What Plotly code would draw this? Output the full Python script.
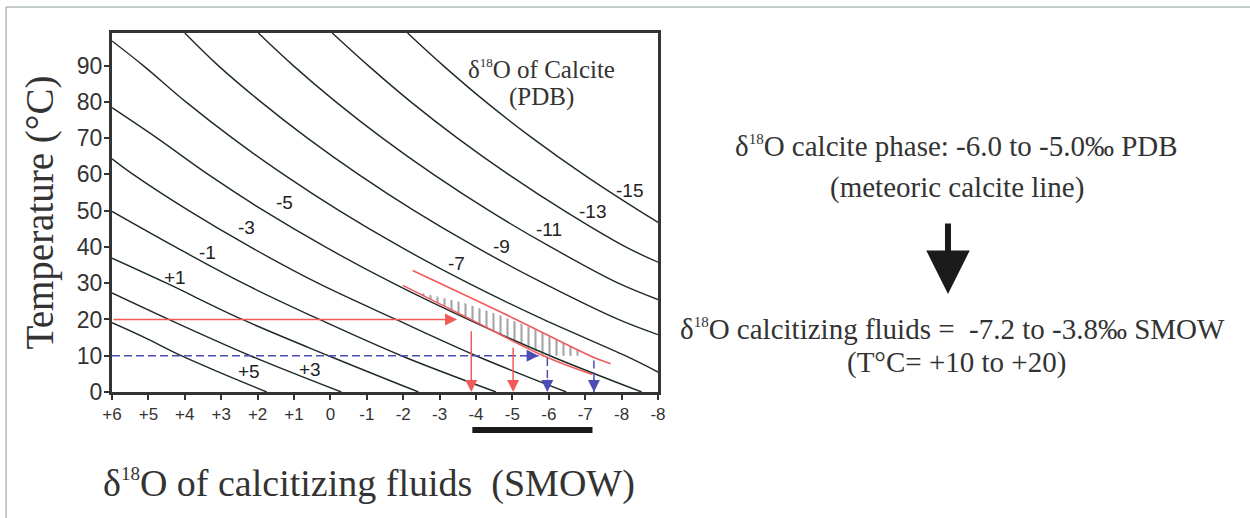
import plotly.graph_objects as go

SERIF = "Liberation Serif, Times New Roman, serif"
SANS = "Liberation Sans, Arial, sans-serif"
CURVE = "#1d2b27"
RED = "#f25a5a"
BLUE = "#4d4db3"
TXT = "#333333"

# ---- axes ----
x_ticks = [6, 5, 4, 3, 2, 1, 0, -1, -2, -3, -4, -5, -6, -7, -8, -9]
x_ticktext = ["+6", "+5", "+4", "+3", "+2", "+1", "0", "-1", "-2", "-3",
              "-4", "-5", "-6", "-7", "-8", "-8"]
y_ticks = [0, 10, 20, 30, 40, 50, 60, 70, 80, 90]

# ---- calcite isopleths (delta18O water SMOW vs temperature) ----
c_p5_x = [1.75, 2.95, 4.1, 5.1, 6.0]
c_p5_t = [0, 5, 10, 15, 19.1]
c_p3_x = [-0.3, 2.2, 4.44, 6.0]
c_p3_t = [0, 10, 20, 27.3]
c_p1_x = [-2.42, 0.05, 2.42, 4.5, 6.0]
c_p1_t = [0, 10, 20, 30, 36.9]
c_m1_x = [-4.55, -1.95, 0.3, 2.4, 4.26, 6.0]
c_m1_t = [0, 10, 20, 30, 40, 49.8]
c_m3_x = [-6.48, -4.0, -1.8, 0.34, 2.2, 3.89, 5.42, 6.0]
c_m3_t = [0, 10, 20, 30, 40, 50, 60, 64.3]
c_m5_x = [-8.55, -6.03, -3.78, -1.72, 0.14, 1.83, 3.36, 4.76, 6.0]
c_m5_t = [0, 10, 20, 30, 40, 50, 60, 70, 78.4]
c_m7_x = [-9.0, -8.1, -5.85, -3.79, -1.93, -0.24, 1.29, 2.69, 3.97, 5.14, 6.0]
c_m7_t = [5.5, 10, 20, 30, 40, 50, 60, 70, 80, 90, 96.8]
c_m9_x = [-9.0, -7.91, -5.85, -3.99, -2.3, -0.77, 0.63, 1.91, 3.08, 4.0]
c_m9_t = [15.8, 20, 30, 40, 50, 60, 70, 80, 90, 99]
c_m11_x = [-9.0, -7.91, -6.05, -4.36, -2.83, -1.43, -0.15, 1.02, 1.98]
c_m11_t = [25.5, 30, 40, 50, 60, 70, 80, 90, 99]
c_m13_x = [-9.0, -8.11, -6.42, -4.89, -3.49, -2.21, -1.04, -0.05]
c_m13_t = [35.8, 40, 50, 60, 70, 80, 90, 99]
c_m15_x = [-9.0, -8.48, -6.95, -5.55, -4.27, -3.1, -2.12]
c_m15_t = [46.8, 50, 60, 70, 80, 90, 99]

curve_labels = ["-15", "-13", "-11", "-9", "-7", "-5", "-3", "-1", "+1", "+3", "+5"]
label_x = [-8.23, -7.20, -6.0, -4.69, -3.46, 1.25, 2.31, 3.39, 4.28, 0.55, 2.24]
label_t = [55.7, 49.9, 44.8, 40.2, 35.4, 52.2, 45.3, 38.4, 31.5, 6.2, 5.7]

# ---- meteoric calcite band (-6 / -5 per mil PDB) ----
band_upper_x = [-2.26, -5.0, -7.24, -7.7]
band_upper_t = [33.5, 20.5, 9.5, 7.8]
band_lower_x = [-1.99, -3.8, -5.85, -7.2]
band_lower_t = [29.4, 20.3, 10.0, 4.8]
hatch_x = [-2.42, -3.66, -4.67, -5.5, -6.83, -6.83, -5.91, -5.0, -3.8, -2.42]
hatch_t = [27.5, 24.6, 21.1, 17.7, 11.5, 10.0, 10.0, 14.3, 20.3, 27.2]

# ---- arrows ----
red_h = (6.0, 20.0, -3.48)          # x start, T, x tip
red_v_x = [-3.87, -5.02]
red_v_t = [17.2, 12.6]
blue_h = (6.0, 10.0, -5.72)
blue_v_x = [-5.96, -7.24]
blue_v_t = [9.4, 8.7]
fluid_range = [-3.9, -7.2]


def d18(size):
    return "δ<sup><span style='font-size:%dpx'>18</span></sup>O" % size


fig = go.Figure()

curves = [(c_m15_x, c_m15_t), (c_m13_x, c_m13_t), (c_m11_x, c_m11_t),
          (c_m9_x, c_m9_t), (c_m7_x, c_m7_t), (c_m5_x, c_m5_t),
          (c_m3_x, c_m3_t), (c_m1_x, c_m1_t), (c_p1_x, c_p1_t),
          (c_p3_x, c_p3_t), (c_p5_x, c_p5_t)]
for cx, ct in curves:
    fig.add_trace(go.Scatter(x=cx, y=ct, mode="lines",
                             line=dict(color=CURVE, width=1.4, shape="spline"),
                             hoverinfo="skip", showlegend=False))

# hatch
fig.add_trace(go.Scatter(x=hatch_x, y=hatch_t, mode="lines", fill="toself",
                         line=dict(width=0, color="rgba(0,0,0,0)"),
                         fillcolor="rgba(0,0,0,0)",
                         fillpattern=dict(shape="|", fgcolor="#4a4a4a",
                                          bgcolor="rgba(0,0,0,0)",
                                          size=7, solidity=0.3),
                         hoverinfo="skip", showlegend=False))

# band lines
fig.add_trace(go.Scatter(x=band_upper_x, y=band_upper_t, mode="lines",
                         line=dict(color=RED, width=1.6, shape="spline"),
                         hoverinfo="skip", showlegend=False))
fig.add_trace(go.Scatter(x=band_lower_x, y=band_lower_t, mode="lines",
                         line=dict(color=RED, width=1.6, shape="spline"),
                         hoverinfo="skip", showlegend=False))

# blue dashed lines
fig.add_trace(go.Scatter(x=[blue_h[0], blue_h[2]], y=[blue_h[1], blue_h[1]],
                         mode="lines", line=dict(color=BLUE, width=1.5, dash="8px,4px"),
                         hoverinfo="skip", showlegend=False))
for bx, bt in zip(blue_v_x, blue_v_t):
    fig.add_trace(go.Scatter(x=[bx, bx], y=[bt, 0], mode="lines",
                             line=dict(color=BLUE, width=1.5, dash="8px,4px"),
                             hoverinfo="skip", showlegend=False))

C = dict(xanchor="center", yanchor="middle")
ann = []
# curve labels
for txt, lx, lt in zip(curve_labels, label_x, label_t):
    ann.append(dict(x=lx, y=lt, xref="x", yref="y", text=txt, showarrow=False,
                    font=dict(family=SANS, size=19, color="#222"), **C))

# red solid arrows
ann.append(dict(x=red_h[2], y=red_h[1], ax=red_h[0], ay=red_h[1], xref="x", yref="y",
                axref="x", ayref="y", text="", showarrow=True, arrowhead=2,
                arrowsize=1.6, arrowwidth=1.5, arrowcolor=RED, standoff=0))
for rx, rt in zip(red_v_x, red_v_t):
    ann.append(dict(x=rx, y=0, ax=rx, ay=rt, xref="x", yref="y",
                    axref="x", ayref="y", text="", showarrow=True, arrowhead=2,
                    arrowsize=1.6, arrowwidth=1.5, arrowcolor=RED, standoff=0))
# blue arrow heads
ann.append(dict(x=blue_h[2], y=blue_h[1], ax=-14, ay=0, xref="x", yref="y",
                text="", showarrow=True, arrowhead=2, arrowsize=1.6, arrowwidth=1.5,
                arrowcolor=BLUE, standoff=0))
for bx in blue_v_x:
    ann.append(dict(x=bx, y=0, ax=0, ay=-14, xref="x", yref="y",
                    text="", showarrow=True, arrowhead=2, arrowsize=1.6, arrowwidth=1.5,
                    arrowcolor=BLUE, standoff=0))

# in-plot title
ann.append(dict(x=-5.8, y=89.0, xref="x", yref="y", showarrow=False,
                text=d18(13) + " of Calcite", font=dict(family=SERIF, size=25, color=TXT), **C))
ann.append(dict(x=-5.8, y=81.3, xref="x", yref="y", showarrow=False,
                text="(PDB)", font=dict(family=SERIF, size=25, color=TXT), **C))

# axis titles
ann.append(dict(x=-0.132, y=0.5, xref="paper", yref="paper", showarrow=False,
                text="Temperature (°C)", textangle=-90,
                font=dict(family=SERIF, size=39, color=TXT), **C))
ann.append(dict(x=0.4716, y=-0.2535, xref="paper", yref="paper", showarrow=False,
                text=d18(19) + " of calcitizing fluids \u00a0(SMOW)",
                font=dict(family=SERIF, size=38, color=TXT), **C))

# right-hand text
ann.append(dict(x=1.5476, y=0.684, xref="paper", yref="paper", showarrow=False,
                text=d18(15) + " calcite phase: -6.0 to -5.0‰ PDB",
                font=dict(family=SERIF, size=29, color=TXT), **C))
ann.append(dict(x=1.5476, y=0.5705, xref="paper", yref="paper", showarrow=False,
                text="(meteoric calcite line)",
                font=dict(family=SERIF, size=29, color=TXT), **C))
ann.append(dict(x=1.540, y=0.175, xref="paper", yref="paper", showarrow=False,
                text=d18(15) + " calcitizing fluids = \u00a0-7.2 to -3.8‰ SMOW",
                font=dict(family=SERIF, size=29, color=TXT), **C))
ann.append(dict(x=1.5458, y=0.0814, xref="paper", yref="paper", showarrow=False,
                text="(T°C= +10 to +20)",
                font=dict(family=SERIF, size=29, color=TXT), **C))
# big black arrow
ann.append(dict(x=1.5311, y=0.273, xref="paper", yref="paper", ax=0, ay=-72,
                text="", showarrow=True, arrowhead=2, arrowsize=1.45, arrowwidth=6,
                arrowcolor="#1a1a1a", standoff=0))

shapes = [
    dict(type="line", xref="x", yref="paper", x0=fluid_range[0], x1=fluid_range[1],
         y0=-0.106, y1=-0.106, line=dict(color="#1a1a1a", width=6)),
    dict(type="line", xref="paper", yref="paper", x0=-0.194, x1=2.1, y0=1.0724, y1=1.0724,
         line=dict(color="#8a9a90", width=1)),
    dict(type="line", xref="paper", yref="paper", x0=-0.194, x1=-0.194, y0=-0.4, y1=1.0724,
         line=dict(color="#8a9a90", width=1)),
]

fig.update_layout(
    width=1250, height=518,
    margin=dict(l=112, r=592, t=33, b=126),
    paper_bgcolor="white", plot_bgcolor="white",
    showlegend=False,
    annotations=ann, shapes=shapes,
    xaxis=dict(range=[6, -9], tickvals=x_ticks, ticktext=x_ticktext,
               showgrid=False, zeroline=False, showline=True, linewidth=3,
               linecolor="#333", mirror=True, ticks="outside", ticklen=5,
               tickwidth=1.5, tickcolor="#333",
               tickfont=dict(family=SANS, size=17, color=TXT)),
    yaxis=dict(range=[0, 99], tickvals=y_ticks, showgrid=False, zeroline=False,
               showline=True, linewidth=3, linecolor="#333", mirror=True,
               ticks="outside", ticklen=5, tickwidth=1.5, tickcolor="#333",
               ticklabelstandoff=-3,
               tickfont=dict(family=SANS, size=23, color=TXT)),
)

fig.write_html("out.html")
